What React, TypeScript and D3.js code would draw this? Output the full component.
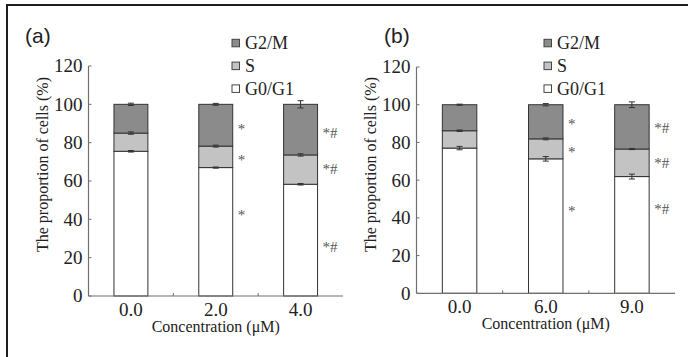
import React from "react";
import * as d3 from "d3";

const W = 688;
const H = 357;

// Series keys (stack order bottom → top) and legend order
const KEYS = ["G0/G1", "S", "G2/M"];
const LEGEND_ORDER = ["G2/M", "S", "G0/G1"];
const Y_TICKS = [0, 20, 40, 60, 80, 100, 120];

// Panel (a)
const CATS_A = ["0.0", "2.0", "4.0"];
const G0G1_A = [75.5, 67.0, 58.3];
const S_A = [9.5, 11.2, 15.3];
const G2M_A = [15.0, 21.8, 26.4];
const ERR_G0G1_A = [0.4, 0.3, 0.4];
const ERR_S_A = [0.6, 0.5, 0.6];
const ERR_G2M_A = [0.6, 0.5, 1.9];
const ANN_LABELS_A = [[], ["*", "*", "*"], ["*#", "*#", "*#"]];
const ANN_Y_A = [[], [88.3, 72.0, 43.3], [85.2, 66.2, 25.7]];

// Panel (b)
const CATS_B = ["0.0", "6.0", "9.0"];
const G0G1_B = [77.0, 71.3, 61.9];
const S_B = [9.2, 10.6, 14.6];
const G2M_B = [13.8, 18.1, 23.5];
const ERR_G0G1_B = [0.9, 1.2, 1.3];
const ERR_S_B = [0.4, 0.5, 0.3];
const ERR_G2M_B = [0.3, 0.6, 1.5];
const ANN_LABELS_B = [[], ["*", "*", "*"], ["*#", "*#", "*#"]];
const ANN_Y_B = [[], [90.8, 76.1, 44.8], [87.6, 69.0, 44.8]];

const COLORS: Record<string, string> = {
  "G0/G1": "#ffffff",
  S: "#c3c3c3",
  "G2/M": "#8b8b8b",
};

const SERIF: React.CSSProperties = { fontFamily: "Liberation Serif, DejaVu Serif, serif" };
const SANS: React.CSSProperties = { fontFamily: "Liberation Sans, Arial, sans-serif" };

type PanelProps = {
  xL: number;
  xR: number;
  y0: number;
  yTop: number;
  cats: string[];
  g0: number[];
  s: number[];
  g2: number[];
  eg0: number[];
  es: number[];
  eg2: number[];
  annLabels: string[][];
  annY: number[][];
  label: string;
  labelX: number;
  legendX: number;
};

function Panel(p: PanelProps) {
  const x = d3
    .scaleBand<string>()
    .domain(p.cats)
    .range([p.xL, p.xR])
    .paddingInner(0.6)
    .paddingOuter(0.3);
  const y = d3.scaleLinear().domain([0, 120]).range([p.y0, p.yTop]);

  const rows = p.cats.map((c, i) => ({
    cat: c,
    "G0/G1": p.g0[i],
    S: p.s[i],
    "G2/M": p.g2[i],
  }));
  const errs: Record<string, number[]> = { "G0/G1": p.eg0, S: p.es, "G2/M": p.eg2 };
  const stacked = d3.stack<any>().keys(KEYS)(rows);
  const bw = x.bandwidth();
  const step = x.step();
  const boundaries = p.cats.slice(1).map((c) => (x(c) as number) - (step * x.paddingInner()) / 2);
  const axisColor = "#707070";
  const textColor = "#222";

  return (
    <g>
      {/* panel label */}
      <text x={p.labelX} y={43} style={SANS} fontSize={21} fill={textColor}>
        {p.label}
      </text>

      {/* legend */}
      {LEGEND_ORDER.map((k, i) => {
        const base = 49.3 + i * 22.8;
        return (
          <g key={k}>
            <rect
              x={p.legendX + 0.5}
              y={base - 10}
              width={7.5}
              height={7.5}
              fill={COLORS[k]}
              stroke="#444"
              strokeWidth={1}
            />
            <text x={p.legendX + 13.5} y={base} style={SERIF} fontSize={18} fill={textColor}>
              {k}
            </text>
          </g>
        );
      })}

      {/* bars */}
      {stacked.map((layer) =>
        layer.map((d, i) => {
          const cat = p.cats[i];
          const bx = x(cat) as number;
          const top = y(d[1]);
          const bot = y(d[0]);
          return (
            <rect
              key={layer.key + cat}
              x={bx}
              y={top}
              width={bw}
              height={bot - top}
              fill={COLORS[layer.key]}
              stroke="#333"
              strokeWidth={1}
            />
          );
        })
      )}

      {/* error bars */}
      {stacked.map((layer) =>
        layer.map((d, i) => {
          const cat = p.cats[i];
          const cx = (x(cat) as number) + bw / 2;
          const e = errs[layer.key][i];
          const yHi = y(d[1] + e);
          const yLo = y(d[1] - e);
          return (
            <g key={"e" + layer.key + cat} stroke="#333" strokeWidth={1}>
              <line x1={cx} x2={cx} y1={yHi} y2={yLo} />
              <line x1={cx - 3} x2={cx + 3} y1={yHi} y2={yHi} />
              <line x1={cx - 3} x2={cx + 3} y1={yLo} y2={yLo} />
            </g>
          );
        })
      )}

      {/* significance annotations */}
      {p.annLabels.map((labels, i) =>
        labels.map((t, j) => {
          const cat = p.cats[i];
          const bx = (x(cat) as number) + bw;
          const off = t === "*" ? 7 : 5;
          return (
            <text
              key={"a" + i + "-" + j}
              x={bx + 5}
              y={y(p.annY[i][j]) + off}
              style={SERIF}
              fontSize={15}
              fill="#555"
            >
              {t}
            </text>
          );
        })
      )}

      {/* y axis */}
      <line x1={p.xL} x2={p.xL} y1={y(0)} y2={y(120)} stroke={axisColor} strokeWidth={1.2} />
      {Y_TICKS.map((t) => (
        <g key={"yt" + t}>
          <line x1={p.xL} x2={p.xL + 3} y1={y(t)} y2={y(t)} stroke={axisColor} strokeWidth={1} />
          <text
            x={p.xL - 6}
            y={y(t)}
            dy="0.34em"
            textAnchor="end"
            style={SERIF}
            fontSize={19}
            fill={textColor}
          >
            {t}
          </text>
        </g>
      ))}

      {/* x axis */}
      <line x1={p.xL} x2={p.xR} y1={p.y0} y2={p.y0} stroke={axisColor} strokeWidth={1.2} />
      {boundaries.map((bx, i) => (
        <line key={"xt" + i} x1={bx} x2={bx} y1={p.y0} y2={p.y0 - 3} stroke={axisColor} strokeWidth={1} />
      ))}
      {p.cats.map((c) => (
        <text
          key={"xl" + c}
          x={(x(c) as number) + bw / 2}
          y={p.y0 + 20}
          textAnchor="middle"
          style={SERIF}
          fontSize={19}
          fill={textColor}
        >
          {c}
        </text>
      ))}

      {/* axis titles */}
      <text
        x={(p.xL + p.xR) / 2}
        y={p.y0 + 36}
        textAnchor="middle"
        style={SERIF}
        fontSize={16}
        fill={textColor}
      >
        Concentration (μM)
      </text>
      <text
        transform={`translate(${p.xL - 41},164.5) rotate(-90)`}
        textAnchor="middle"
        style={SERIF}
        fontSize={16}
        fill={textColor}
      >
        The proportion of cells (%)
      </text>
    </g>
  );
}

export default function App() {
  return (
    <svg
      width={W}
      height={H}
      viewBox={`0 0 ${W} ${H}`}
      style={{ position: "absolute", left: 0, top: 0, display: "block", background: "#fff" }}
    >
      <rect x={0} y={0} width={W} height={H} fill="#fff" />
      <path d={`M7,${H} L7,5 L${W},5`} fill="none" stroke="#1e1e1e" strokeWidth={2} />
      <Panel
        xL={88.5}
        xR={343}
        y0={296}
        yTop={66}
        cats={CATS_A}
        g0={G0G1_A}
        s={S_A}
        g2={G2M_A}
        eg0={ERR_G0G1_A}
        es={ERR_S_A}
        eg2={ERR_G2M_A}
        annLabels={ANN_LABELS_A}
        annY={ANN_Y_A}
        label="(a)"
        labelX={25}
        legendX={231.5}
      />
      <Panel
        xL={416.5}
        xR={675}
        y0={293.3}
        yTop={67}
        cats={CATS_B}
        g0={G0G1_B}
        s={S_B}
        g2={G2M_B}
        eg0={ERR_G0G1_B}
        es={ERR_S_B}
        eg2={ERR_G2M_B}
        annLabels={ANN_LABELS_B}
        annY={ANN_Y_B}
        label="(b)"
        labelX={384}
        legendX={543.5}
      />
    </svg>
  );
}
